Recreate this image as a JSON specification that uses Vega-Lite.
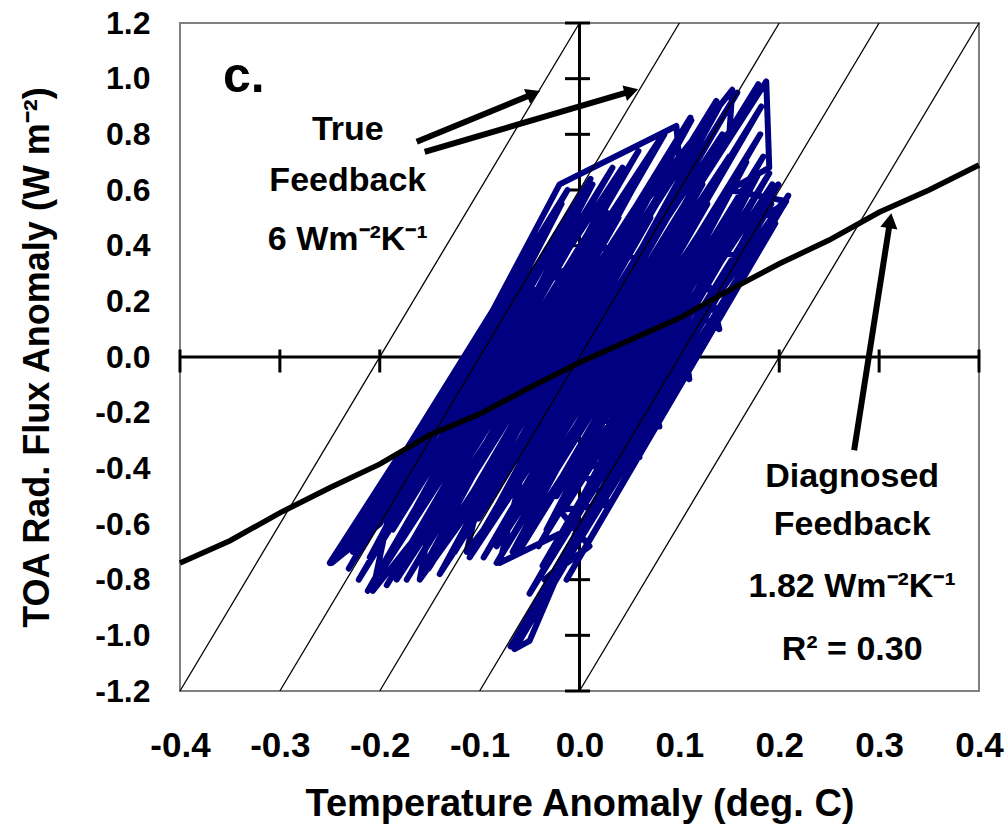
{
  "$schema": "https://vega.github.io/schema/vega-lite/v6.json",
  "width": 799,
  "height": 668,
  "autosize": {"type": "none"},
  "padding": {"left": 180, "top": 23, "right": 29, "bottom": 144},
  "background": "white",
  "config": {
    "view": {"stroke": "#808080", "strokeWidth": 2},
    "font": "Liberation Sans"
  },
  "datasets": {
    "xt": [{"t": -0.4}, {"t": -0.3}, {"t": -0.2}, {"t": -0.1}, {"t": 0.0}, {"t": 0.1}, {"t": 0.2}, {"t": 0.3}, {"t": 0.4}],
    "yt": [{"t": -1.2}, {"t": -1.0}, {"t": -0.8}, {"t": -0.6}, {"t": -0.4}, {"t": -0.2}, {"t": 0.0}, {"t": 0.2}, {"t": 0.4}, {"t": 0.6}, {"t": 0.8}, {"t": 1.0}, {"t": 1.2}],
    "series": [
      {"i": 1, "x": -0.237, "y": -0.70}, {"i": 2, "x": -0.012, "y": 0.60}, {"i": 3, "x": -0.231, "y": -0.76}, {"i": 4, "x": 0.011, "y": 0.64},
      {"i": 5, "x": -0.221, "y": -0.80}, {"i": 6, "x": 0.033, "y": 0.68}, {"i": 7, "x": -0.212, "y": -0.84}, {"i": 8, "x": 0.059, "y": 0.74},
      {"i": 9, "x": -0.193, "y": -0.82}, {"i": 10, "x": 0.085, "y": 0.80}, {"i": 11, "x": -0.173, "y": -0.80}, {"i": 12, "x": 0.111, "y": 0.86},
      {"i": 13, "x": -0.151, "y": -0.76}, {"i": 14, "x": 0.137, "y": 0.92}, {"i": 15, "x": -0.125, "y": -0.70}, {"i": 16, "x": 0.158, "y": 0.95},
      {"i": 17, "x": -0.109, "y": -0.70}, {"i": 18, "x": 0.179, "y": 0.98}, {"i": 19, "x": -0.096, "y": -0.72}, {"i": 20, "x": 0.182, "y": 0.90},
      {"i": 21, "x": -0.083, "y": -0.74}, {"i": 22, "x": 0.181, "y": 0.80}, {"i": 23, "x": -0.061, "y": -0.70}, {"i": 24, "x": 0.184, "y": 0.72},
      {"i": 25, "x": -0.041, "y": -0.68}, {"i": 26, "x": 0.190, "y": 0.66}, {"i": 27, "x": -0.037, "y": -0.75}, {"i": 28, "x": 0.199, "y": 0.62},
      {"i": 29, "x": -0.069, "y": -1.04}, {"i": 30, "x": 0.209, "y": 0.58}, {"i": 31, "x": -0.013, "y": -0.80}, {"i": 32, "x": 0.196, "y": 0.48},
      {"i": 33, "x": -0.050, "y": -0.95}, {"i": 34, "x": 0.192, "y": 0.55}, {"i": 35, "x": -0.050, "y": -0.85}, {"i": 36, "x": 0.159, "y": 0.45},
      {"i": 37, "x": -0.016, "y": -0.55}, {"i": 38, "x": 0.160, "y": 0.55}, {"i": 39, "x": -0.023, "y": -0.50}, {"i": 40, "x": 0.152, "y": 0.60},
      {"i": 41, "x": -0.048, "y": -0.55}, {"i": 42, "x": 0.128, "y": 0.55}, {"i": 43, "x": -0.055, "y": -0.50}, {"i": 44, "x": 0.123, "y": 0.62},
      {"i": 45, "x": -0.080, "y": -0.55}, {"i": 46, "x": 0.096, "y": 0.55}, {"i": 47, "x": -0.101, "y": -0.58}, {"i": 48, "x": 0.071, "y": 0.50},
      {"i": 49, "x": -0.120, "y": -0.60}, {"i": 50, "x": 0.064, "y": 0.55}, {"i": 51, "x": -0.128, "y": -0.55}, {"i": 52, "x": 0.039, "y": 0.50},
      {"i": 53, "x": -0.152, "y": -0.60}, {"i": 54, "x": 0.027, "y": 0.52}, {"i": 55, "x": -0.165, "y": -0.58}, {"i": 56, "x": 0.004, "y": 0.48},
      {"i": 57, "x": -0.187, "y": -0.62}, {"i": 58, "x": -0.009, "y": 0.50}, {"i": 59, "x": -0.193, "y": -0.56}, {"i": 60, "x": -0.033, "y": 0.45},
      {"i": 61, "x": -0.223, "y": -0.64}, {"i": 62, "x": -0.248, "y": -0.74}, {"i": 63, "x": -0.200, "y": -0.60}, {"i": 64, "x": -0.020, "y": 0.62},
      {"i": 65, "x": 0.097, "y": 0.83}, {"i": 66, "x": 0.100, "y": 0.70}, {"i": 67, "x": 0.040, "y": 0.45}, {"i": 68, "x": 0.153, "y": 0.96},
      {"i": 69, "x": 0.150, "y": 0.80}, {"i": 70, "x": 0.110, "y": 0.56}, {"i": 71, "x": 0.187, "y": 0.99}, {"i": 72, "x": 0.190, "y": 0.68},
      {"i": 73, "x": 0.150, "y": 0.60}, {"i": 74, "x": 0.207, "y": 0.56}, {"i": 75, "x": 0.170, "y": 0.35}, {"i": 76, "x": 0.120, "y": 0.40},
      {"i": 77, "x": 0.140, "y": 0.10}, {"i": 78, "x": 0.100, "y": 0.20}, {"i": 79, "x": 0.110, "y": -0.08}, {"i": 80, "x": 0.060, "y": 0.05},
      {"i": 81, "x": 0.080, "y": -0.25}, {"i": 82, "x": 0.020, "y": -0.20}, {"i": 83, "x": 0.060, "y": -0.36}, {"i": 84, "x": 0.000, "y": -0.40},
      {"i": 85, "x": 0.030, "y": -0.53}, {"i": 86, "x": -0.020, "y": -0.55}, {"i": 87, "x": 0.010, "y": -0.68}, {"i": 88, "x": -0.035, "y": -0.80},
      {"i": 89, "x": -0.010, "y": -0.72}, {"i": 90, "x": -0.065, "y": -1.05}, {"i": 91, "x": -0.050, "y": -1.02}, {"i": 92, "x": 0.000, "y": -0.60},
      {"i": 93, "x": -0.080, "y": -0.74}, {"i": 94, "x": -0.060, "y": -0.45}, {"i": 95, "x": -0.113, "y": -0.70}, {"i": 96, "x": -0.100, "y": -0.50},
      {"i": 97, "x": -0.160, "y": -0.80}, {"i": 98, "x": -0.150, "y": -0.60}, {"i": 99, "x": -0.120, "y": -0.45}, {"i": 100, "x": -0.207, "y": -0.84},
      {"i": 101, "x": -0.190, "y": -0.55}, {"i": 102, "x": -0.250, "y": -0.74}, {"i": 103, "x": -0.180, "y": -0.35}, {"i": 104, "x": -0.140, "y": -0.40},
      {"i": 105, "x": -0.130, "y": -0.10}, {"i": 106, "x": -0.050, "y": 0.20}, {"i": 107, "x": -0.080, "y": 0.15}, {"i": 108, "x": 0.020, "y": 0.40},
      {"i": 109, "x": 0.100, "y": 0.30}, {"i": 110, "x": 0.160, "y": 0.45}, {"i": 111, "x": 0.205, "y": 0.55},
      {"i": 112, "x": 0.123, "y": 0.05}, {"i": 113, "x": 0.202, "y": 0.55}, {"i": 114, "x": 0.125, "y": 0.15}, {"i": 115, "x": 0.193, "y": 0.62},
      {"i": 116, "x": 0.097, "y": 0.10}, {"i": 117, "x": 0.178, "y": 0.65}, {"i": 118, "x": 0.090, "y": 0.18}, {"i": 119, "x": 0.167, "y": 0.70},
      {"i": 120, "x": 0.057, "y": 0.10}, {"i": 121, "x": 0.150, "y": 0.72}, {"i": 122, "x": 0.045, "y": 0.15}, {"i": 123, "x": 0.143, "y": 0.80},
      {"i": 124, "x": 0.033, "y": 0.20}, {"i": 125, "x": 0.140, "y": 0.90}, {"i": 126, "x": 0.000, "y": 0.12}, {"i": 127, "x": 0.112, "y": 0.85},
      {"i": 128, "x": -0.023, "y": 0.10}, {"i": 129, "x": 0.080, "y": 0.78}, {"i": 130, "x": -0.035, "y": 0.15}, {"i": 131, "x": 0.043, "y": 0.68},
      {"i": 132, "x": -0.060, "y": 0.12}, {"i": 133, "x": 0.013, "y": 0.62}, {"i": 134, "x": -0.083, "y": 0.10}, {"i": 135, "x": -0.018, "y": 0.55},
      {"i": 136, "x": -0.123, "y": -0.05}, {"i": 137, "x": -0.227, "y": -0.70}, {"i": 138, "x": -0.125, "y": -0.15}, {"i": 139, "x": -0.210, "y": -0.72},
      {"i": 140, "x": -0.100, "y": -0.12}, {"i": 141, "x": -0.200, "y": -0.78}, {"i": 142, "x": -0.077, "y": -0.10}, {"i": 143, "x": -0.183, "y": -0.80},
      {"i": 144, "x": -0.065, "y": -0.15}, {"i": 145, "x": -0.155, "y": -0.75}, {"i": 146, "x": -0.040, "y": -0.12}, {"i": 147, "x": -0.140, "y": -0.78},
      {"i": 148, "x": -0.017, "y": -0.10}, {"i": 149, "x": -0.110, "y": -0.72}, {"i": 150, "x": -0.005, "y": -0.15}, {"i": 151, "x": -0.083, "y": -0.68},
      {"i": 152, "x": 0.020, "y": -0.12}, {"i": 153, "x": -0.067, "y": -0.70}, {"i": 154, "x": 0.043, "y": -0.10}, {"i": 155, "x": -0.033, "y": -0.62},
      {"i": 156, "x": 0.055, "y": -0.15}, {"i": 157, "x": -0.020, "y": -0.66}, {"i": 158, "x": 0.083, "y": -0.10}, {"i": 159, "x": -0.007, "y": -0.70}
    ],
    "truefb": [
      {"id": "a", "x": -0.4, "y": -1.2}, {"id": "a", "x": 0.0, "y": 1.2},
      {"id": "b", "x": -0.3, "y": -1.2}, {"id": "b", "x": 0.1, "y": 1.2},
      {"id": "c", "x": -0.2, "y": -1.2}, {"id": "c", "x": 0.2, "y": 1.2},
      {"id": "d", "x": -0.1, "y": -1.2}, {"id": "d", "x": 0.3, "y": 1.2},
      {"id": "e", "x": 0.0, "y": -1.2}, {"id": "e", "x": 0.4, "y": 1.2}
    ],
    "diag": [
      {"x": -0.40, "y": -0.74}, {"x": -0.35, "y": -0.66}, {"x": -0.30, "y": -0.56}, {"x": -0.25, "y": -0.47},
      {"x": -0.20, "y": -0.385}, {"x": -0.15, "y": -0.28}, {"x": -0.10, "y": -0.205}, {"x": -0.05, "y": -0.11},
      {"x": 0.00, "y": -0.02}, {"x": 0.05, "y": 0.06}, {"x": 0.10, "y": 0.14}, {"x": 0.15, "y": 0.24},
      {"x": 0.20, "y": 0.335}, {"x": 0.25, "y": 0.42}, {"x": 0.30, "y": 0.52}, {"x": 0.35, "y": 0.60}, {"x": 0.40, "y": 0.69}
    ],
    "arrows": [
      {"x": -0.163, "y": 0.773, "x2": -0.046, "y2": 0.946},
      {"x": -0.155, "y": 0.737, "x2": 0.052, "y2": 0.955},
      {"x": 0.275, "y": -0.335, "x2": 0.311, "y2": 0.49}
    ],
    "labels": [
      {"x": -0.232, "y": 0.781, "text": "True"},
      {"x": -0.232, "y": 0.597, "text": "Feedback"},
      {"x": -0.232, "y": 0.385, "text": "6 Wm⁻²K⁻¹"},
      {"x": 0.273, "y": -0.468, "text": "Diagnosed"},
      {"x": 0.273, "y": -0.640, "text": "Feedback"},
      {"x": 0.273, "y": -0.863, "text": "1.82 Wm⁻²K⁻¹"},
      {"x": 0.273, "y": -1.09, "text": "R² = 0.30"}
    ]
  },
  "layer": [
    {
      "data": {"values": [{}]},
      "mark": {"type": "rule", "color": "black", "strokeWidth": 3},
      "encoding": {
        "y": {"datum": 0, "type": "quantitative", "scale": {"domain": [-1.2, 1.2], "nice": false, "zero": false}}
      }
    },
    {
      "data": {"values": [{}]},
      "mark": {"type": "rule", "color": "black", "strokeWidth": 3},
      "encoding": {
        "x": {"datum": 0, "type": "quantitative", "scale": {"domain": [-0.4, 0.4], "nice": false, "zero": false}}
      }
    },
    {
      "data": {"name": "xt"},
      "mark": {"type": "tick", "orient": "vertical", "color": "black", "opacity": 1, "size": 23, "thickness": 3, "yOffset": 4},
      "encoding": {
        "x": {"field": "t", "type": "quantitative", "scale": {"domain": [-0.4, 0.4], "nice": false, "zero": false}},
        "y": {"datum": 0, "type": "quantitative", "scale": {"domain": [-1.2, 1.2], "nice": false, "zero": false}}
      }
    },
    {
      "data": {"name": "yt"},
      "mark": {"type": "tick", "orient": "horizontal", "color": "black", "opacity": 1, "size": 25, "thickness": 3, "xOffset": -2},
      "encoding": {
        "y": {"field": "t", "type": "quantitative", "scale": {"domain": [-1.2, 1.2], "nice": false, "zero": false}},
        "x": {"datum": 0, "type": "quantitative", "scale": {"domain": [-0.4, 0.4], "nice": false, "zero": false}}
      }
    },
    {
      "data": {"name": "series"},
      "mark": {"type": "line", "color": "#000080", "strokeWidth": 6, "strokeJoin": "round"},
      "encoding": {
        "x": {
          "field": "x", "type": "quantitative",
          "scale": {"domain": [-0.4, 0.4], "nice": false, "zero": false},
          "axis": {
            "title": "Temperature Anomaly (deg. C)",
            "values": [-0.4, -0.3, -0.2, -0.1, 0, 0.1, 0.2, 0.3, 0.4],
            "format": ".1f",
            "labelExpr": "replace(datum.label, '\u2212', '-')",
            "domain": false, "ticks": false, "tickSize": 0, "grid": false,
            "labelPadding": 37, "labelFontSize": 35, "labelFontWeight": "bold", "labelColor": "black",
            "labelFont": "Liberation Sans", "labelFlush": false,
            "titleFont": "Liberation Sans", "titleFontSize": 38, "titleFontWeight": "bold", "titleColor": "black",
            "titlePadding": 22
          }
        },
        "y": {
          "field": "y", "type": "quantitative",
          "scale": {"domain": [-1.2, 1.2], "nice": false, "zero": false},
          "axis": {
            "title": "TOA Rad. Flux Anomaly (W m⁻²)",
            "values": [-1.2, -1.0, -0.8, -0.6, -0.4, -0.2, 0, 0.2, 0.4, 0.6, 0.8, 1.0, 1.2],
            "format": ".1f",
            "labelExpr": "replace(datum.label, '\u2212', '-')",
            "domain": false, "ticks": false, "tickSize": 0, "grid": false,
            "labelPadding": 30, "labelFontSize": 32, "labelFontWeight": "bold", "labelColor": "black",
            "labelFont": "Liberation Sans", "labelFlush": false,
            "titleFont": "Liberation Sans", "titleFontSize": 36, "titleFontWeight": "bold", "titleColor": "black",
            "titlePadding": 38
          }
        },
        "order": {"field": "i", "type": "quantitative"}
      }
    },
    {
      "data": {"name": "truefb"},
      "mark": {"type": "line", "color": "black", "strokeWidth": 1.3},
      "encoding": {
        "x": {"field": "x", "type": "quantitative", "scale": {"domain": [-0.4, 0.4], "nice": false, "zero": false}},
        "y": {"field": "y", "type": "quantitative", "scale": {"domain": [-1.2, 1.2], "nice": false, "zero": false}},
        "detail": {"field": "id"}
      }
    },
    {
      "data": {"name": "diag"},
      "mark": {"type": "line", "color": "black", "strokeWidth": 5.5},
      "encoding": {
        "x": {"field": "x", "type": "quantitative", "scale": {"domain": [-0.4, 0.4], "nice": false, "zero": false}},
        "y": {"field": "y", "type": "quantitative", "scale": {"domain": [-1.2, 1.2], "nice": false, "zero": false}}
      }
    },
    {
      "data": {"name": "arrows"},
      "mark": {"type": "rule", "color": "black", "strokeWidth": 6},
      "encoding": {
        "x": {"field": "x", "type": "quantitative", "scale": {"domain": [-0.4, 0.4], "nice": false, "zero": false}},
        "y": {"field": "y", "type": "quantitative", "scale": {"domain": [-1.2, 1.2], "nice": false, "zero": false}},
        "x2": {"field": "x2"},
        "y2": {"field": "y2"}
      }
    },
    {
      "data": {"values": [{"x": -0.046, "y": 0.946}]},
      "mark": {"type": "point", "shape": "triangle-right", "filled": true, "color": "black", "opacity": 1, "size": 260, "angle": 337.5},
      "encoding": {
        "x": {"field": "x", "type": "quantitative", "scale": {"domain": [-0.4, 0.4], "nice": false, "zero": false}},
        "y": {"field": "y", "type": "quantitative", "scale": {"domain": [-1.2, 1.2], "nice": false, "zero": false}}
      }
    },
    {
      "data": {"values": [{"x": 0.052, "y": 0.955}]},
      "mark": {"type": "point", "shape": "triangle-right", "filled": true, "color": "black", "opacity": 1, "size": 260, "angle": 343.8},
      "encoding": {
        "x": {"field": "x", "type": "quantitative", "scale": {"domain": [-0.4, 0.4], "nice": false, "zero": false}},
        "y": {"field": "y", "type": "quantitative", "scale": {"domain": [-1.2, 1.2], "nice": false, "zero": false}}
      }
    },
    {
      "data": {"values": [{"x": 0.311, "y": 0.49}]},
      "mark": {"type": "point", "shape": "triangle-right", "filled": true, "color": "black", "opacity": 1, "size": 300, "angle": 279.2},
      "encoding": {
        "x": {"field": "x", "type": "quantitative", "scale": {"domain": [-0.4, 0.4], "nice": false, "zero": false}},
        "y": {"field": "y", "type": "quantitative", "scale": {"domain": [-1.2, 1.2], "nice": false, "zero": false}}
      }
    },
    {
      "data": {"name": "labels"},
      "mark": {"type": "text", "font": "Liberation Sans", "fontSize": 34, "fontWeight": "bold", "color": "black", "align": "center", "baseline": "alphabetic"},
      "encoding": {
        "x": {"field": "x", "type": "quantitative", "scale": {"domain": [-0.4, 0.4], "nice": false, "zero": false}},
        "y": {"field": "y", "type": "quantitative", "scale": {"domain": [-1.2, 1.2], "nice": false, "zero": false}},
        "text": {"field": "text"}
      }
    },
    {
      "data": {"values": [{"x": -0.357, "y": 0.953, "text": "c."}]},
      "mark": {"type": "text", "font": "Liberation Sans", "fontSize": 50, "fontWeight": "bold", "color": "black", "align": "left", "baseline": "alphabetic"},
      "encoding": {
        "x": {"field": "x", "type": "quantitative", "scale": {"domain": [-0.4, 0.4], "nice": false, "zero": false}},
        "y": {"field": "y", "type": "quantitative", "scale": {"domain": [-1.2, 1.2], "nice": false, "zero": false}},
        "text": {"field": "text"}
      }
    }
  ]
}
